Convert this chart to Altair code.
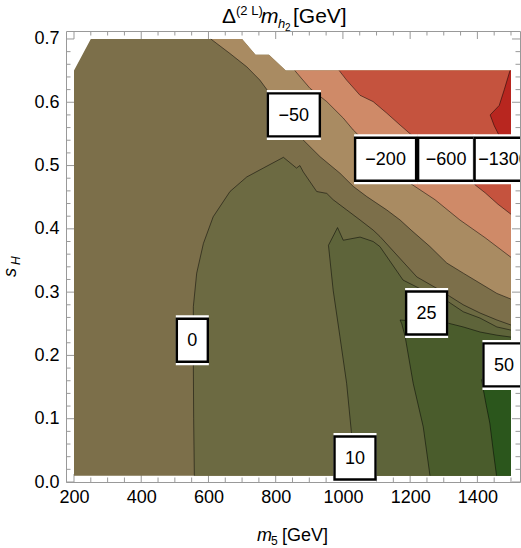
import altair as alt
import pandas as pd

# ---------------- data ----------------
# outline of the computed region (m5 in GeV, sH)
edge_m = [200, 200, 250, 700, 740, 780, 830, 1500, 1500]
edge_s = [0.01, 0.65, 0.70, 0.70, 0.675, 0.675, 0.65, 0.65, 0.01]
top_m = [200, 250, 700, 740, 780, 830, 1500]
top_s = [0.65, 0.70, 0.70, 0.675, 0.675, 0.65, 0.65]

# negative contours (start on the top edge, end on the right edge)
c_n1300_m = [1497, 1480, 1465, 1438, 1450, 1467, 1485, 1500]
c_n1300_s = [0.65, 0.62, 0.595, 0.58, 0.563, 0.545, 0.525, 0.515]
c_n600_m = [989, 1011, 1051, 1090, 1130, 1170, 1209, 1300, 1387, 1423, 1461, 1500]
c_n600_s = [0.65, 0.635, 0.611, 0.601, 0.583, 0.564, 0.546, 0.51, 0.472, 0.457, 0.439, 0.423]
c_n200_m = [857, 902, 952, 1001, 1031, 1110, 1200, 1274, 1348, 1423, 1500]
c_n200_s = [0.65, 0.622, 0.601, 0.575, 0.556, 0.515, 0.472, 0.446, 0.414, 0.386, 0.355]
c_n50_m = [607, 664, 714, 753, 778, 830, 877, 932, 991, 1031, 1071, 1130, 1170, 1203,
           1259, 1309, 1358, 1408, 1458, 1500]
c_n50_s = [0.70, 0.677, 0.656, 0.635, 0.617, 0.58, 0.543, 0.514, 0.488, 0.467, 0.451, 0.430,
           0.414, 0.398, 0.372, 0.346, 0.330, 0.314, 0.298, 0.289]

# positive contours (start on the bottom edge, end on the right edge)
c_0_m = [558, 556, 555, 555, 565, 585, 614, 664, 714, 763, 823, 862, 872, 882, 922, 952, 971,
         1011, 1051, 1090, 1110, 1220, 1289, 1358, 1408, 1458, 1500]
c_0_s = [0.01, 0.10, 0.188, 0.277, 0.330, 0.377, 0.419, 0.459, 0.482, 0.496, 0.513, 0.496,
         0.500, 0.490, 0.459, 0.456, 0.446, 0.430, 0.414, 0.398, 0.388, 0.324, 0.303, 0.280,
         0.267, 0.256, 0.248]
c_10_m = [1045, 1025, 1011, 991, 971, 957, 984, 1001, 1051, 1090, 1110, 1179, 1250, 1313,
          1358, 1408, 1458, 1500]
c_10_s = [0.01, 0.08, 0.156, 0.230, 0.303, 0.374, 0.402, 0.382, 0.387, 0.380, 0.372, 0.319,
          0.300, 0.285, 0.269, 0.259, 0.245, 0.240]
c_25_m = [1259, 1239, 1209, 1185, 1175, 1170, 1240, 1313, 1358, 1408, 1458, 1500]
c_25_s = [0.01, 0.087, 0.156, 0.230, 0.250, 0.256, 0.253, 0.251, 0.245, 0.237, 0.232, 0.229]
c_50_m = [1457, 1447, 1437, 1425, 1418, 1413, 1420, 1500]
c_50_s = [0.01, 0.05, 0.093, 0.125, 0.145, 0.161, 0.168, 0.168]

# contour labels
lab_text = ["\u221250", "\u2212200", "\u2212600", "\u22121300", "0", "10", "25", "50"]
lab_m = [854, 1127, 1307, 1478, 552, 1036, 1249, 1479]
lab_s = [0.580, 0.510, 0.510, 0.510, 0.224, 0.038, 0.267, 0.185]

# axis ticks
x_ticks = [200, 400, 600, 800, 1000, 1200, 1400]
x_minor = [m for m in range(200, 1501, 50) if m not in x_ticks]
y_ticks = [0.0, 0.1, 0.2, 0.3, 0.4, 0.5, 0.6, 0.7]
y_minor = [round(k * 0.02, 2) for k in range(0, 36) if k % 5 != 0]

# ---------------- styling ----------------
W, H = 454, 451
FONT = "Liberation Sans"
col_base = "#7c6f4a"
col_n50 = "#a98b62"
col_n200 = "#cf8a68"
col_n600 = "#c5533e"
col_n1300 = "#b8261f"
col_p0 = "#6c6a42"
col_p10 = "#5e643a"
col_p25 = "#4a5c2c"
col_p50 = "#2b561c"
box_w = [54, 63, 58, 60, 33, 43, 43, 43]
box_h = 45

xs = alt.Scale(domain=[176.2, 1526.8], nice=False, zero=False)
ys = alt.Scale(domain=[0.0, 0.7126], nice=False, zero=False)
xaxis = alt.Axis(values=x_ticks, title=None, grid=False, ticks=False, domain=False,
                 labelFontSize=18, labelFont=FONT, labelColor="black", labelPadding=6,
                 labelFlush=False, format="d")
yaxis = alt.Axis(values=y_ticks, title=None, grid=False, ticks=False, domain=False,
                 labelFontSize=18, labelFont=FONT, labelColor="black", labelPadding=7,
                 format=".1f")


def X(f="m:Q"):
    return alt.X(f, scale=xs, axis=xaxis)


def Y(f="s:Q"):
    return alt.Y(f, scale=ys, axis=yaxis)


def pts(ms, ss):
    return pd.DataFrame({"m": ms, "s": ss, "i": list(range(len(ms)))})


def poly(ms, ss, color):
    return alt.Chart(pts(ms, ss)).mark_line(fill=color, strokeWidth=0).encode(
        x=X(), y=Y(), order="i:Q")


def cline(ms, ss):
    return alt.Chart(pts(ms, ss)).mark_line(color="#000000", strokeWidth=0.9,
                                            strokeOpacity=0.55).encode(
        x=X(), y=Y(), order="i:Q")


def neg_region(cm, cs):
    ms = list(cm) + [1500]
    ss = list(cs) + [0.65]
    for m, s in reversed(list(zip(top_m, top_s))):
        if cm[0] < m < 1500:
            ms.append(m)
            ss.append(s)
    return ms, ss


def pos_region(cm, cs):
    return list(cm) + [1500], list(cs) + [0.01]


layers = []


# ticks (drawn first, the filled region covers their inner ends)
def tick_layer(vals, kind, length):
    df = pd.DataFrame({"v": vals})
    c = alt.Chart(df).mark_rule(color="#999999", strokeWidth=1)
    if kind == "bottom":
        return c.encode(x=X("v:Q"), y=alt.value(H), y2=alt.value(H - length))
    if kind == "top":
        return c.encode(x=X("v:Q"), y=alt.value(0), y2=alt.value(length))
    if kind == "left":
        return c.encode(y=Y("v:Q"), x=alt.value(0), x2=alt.value(length))
    return c.encode(y=Y("v:Q"), x=alt.value(W), x2=alt.value(W - length))


for side in ["bottom", "top"]:
    layers.append(tick_layer(x_ticks, side, 8))
    layers.append(tick_layer(x_minor, side, 4.5))
for side in ["left", "right"]:
    layers.append(tick_layer(y_ticks, side, 8))
    layers.append(tick_layer(y_minor, side, 4.5))

# filled regions
layers.append(poly(edge_m, edge_s, col_base))
for cm, cs, col in [(c_n50_m, c_n50_s, col_n50), (c_n200_m, c_n200_s, col_n200),
                    (c_n600_m, c_n600_s, col_n600)]:
    ms, ss = neg_region(cm, cs)
    layers.append(poly(ms, ss, col))
layers.append(poly(list(c_n1300_m) + [1500], list(c_n1300_s) + [0.65], col_n1300))
for cm, cs, col in [(c_0_m, c_0_s, col_p0), (c_10_m, c_10_s, col_p10),
                    (c_25_m, c_25_s, col_p25), (c_50_m, c_50_s, col_p50)]:
    ms, ss = pos_region(cm, cs)
    layers.append(poly(ms, ss, col))

# contour lines
for cm, cs in [(c_n1300_m, c_n1300_s), (c_n600_m, c_n600_s), (c_n200_m, c_n200_s),
               (c_n50_m, c_n50_s), (c_0_m, c_0_s), (c_10_m, c_10_s), (c_25_m, c_25_s),
               (c_50_m, c_50_s)]:
    layers.append(cline(cm, cs))

# contour labels
for t, m, s, w in zip(lab_text, lab_m, lab_s, box_w):
    df = pd.DataFrame({"m": [m], "s": [s], "t": [t]})
    base = alt.Chart(df)
    layers.append(base.mark_rect(width=w, height=box_h + 5, fill="white", clip=True)
                  .encode(x=X(), y=Y()))
    layers.append(base.mark_rect(width=w - 2, height=box_h - 2, fill="white", stroke="black",
                                 strokeWidth=2.4, clip=True).encode(x=X(), y=Y()))
    layers.append(base.mark_text(font=FONT, fontSize=18, color="black", align="center",
                                 baseline="middle", dy=1, clip=True)
                  .encode(x=X(), y=Y(), text="t:N"))


# free text (title, axis titles) with sub/superscripts
def txt(s, x, y, size, italic=False, angle=0):
    kw = dict(font=FONT, fontSize=size, color="black", align="left", baseline="alphabetic")
    if italic:
        kw["fontStyle"] = "italic"
    if angle:
        kw["angle"] = angle
    return alt.Chart(pd.DataFrame({"t": [s]})).mark_text(**kw).encode(
        x=alt.value(x), y=alt.value(y), text="t:N")


layers += [
    txt("\u0394", 156, -8, 21),
    txt("(2 L)", 170, -16, 13),
    txt("m", 195, -8, 21, italic=True),
    txt("h", 212, -3, 13, italic=True),
    txt("2", 219, 0, 10),
    txt("[GeV]", 227, -8, 21),
    txt("m", 191, 510, 18, italic=True),
    txt("5", 205, 514, 12),
    txt("[GeV]", 216, 510, 18),
    txt("s", -50, 246, 18, italic=True, angle=270),
    txt("H", -46, 234, 12, italic=True, angle=270),
]

chart = alt.layer(*layers).properties(
    width=W, height=H,
    autosize=alt.AutoSizeParams(type="none"),
    padding={"left": 66, "top": 31, "right": 1, "bottom": 66},
    background="white",
).configure_view(stroke="#999999", strokeWidth=1)

chart.save("out.html", embed_options={"renderer": "svg", "actions": False})
